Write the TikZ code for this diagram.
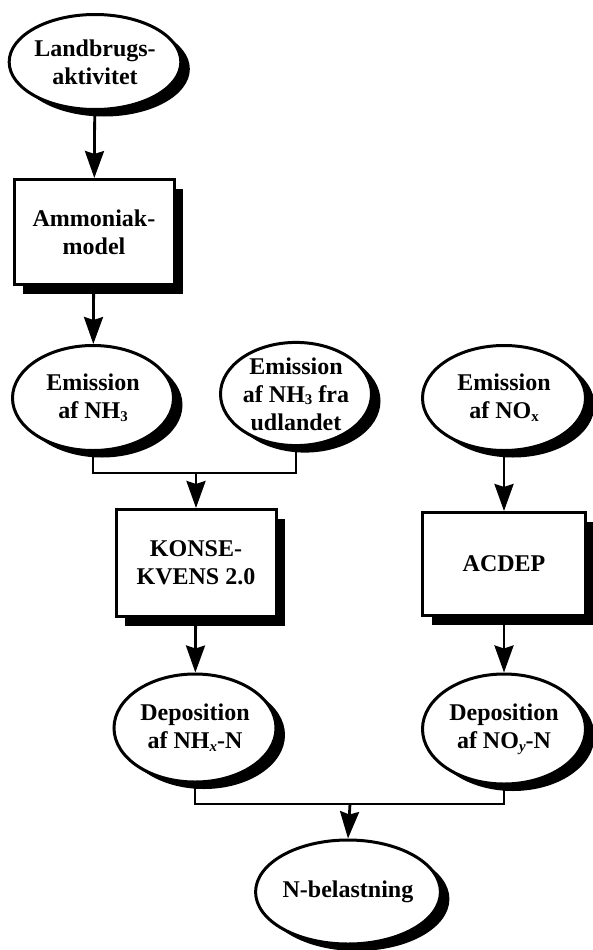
\documentclass[tikz,border=0pt]{standalone}
\usepackage{fontspec}
\setmainfont{Liberation Serif}
\usetikzlibrary{shapes.geometric,shadows,arrows.meta}
\newcommand{\sbs}[1]{\raisebox{-0.25ex}{\scalebox{0.62}{#1}}}
\tikzset{
  ell/.style={ellipse, draw, line width=3pt, fill=white, inner sep=0pt, align=center,
    font=\fontsize{24}{28}\selectfont\bfseries,
    drop shadow={shadow xshift=9pt, shadow yshift=-7pt, fill=black, opacity=1}},
  box/.style={rectangle, draw, line width=3pt, fill=white, inner sep=0pt, align=center,
    font=\fontsize{24}{28}\selectfont\bfseries,
    drop shadow={shadow xshift=9pt, shadow yshift=-9pt, fill=black, opacity=1}},
  conn/.style={line width=2.8pt},
  arr/.style={conn, -{Stealth[length=27pt,width=19pt,inset=3pt]}}
}
\begin{document}
\begin{tikzpicture}[x=1pt,y=-1pt]
\useasboundingbox[fill=white] (0,0) rectangle (593,950);
\node[ell, minimum width=158pt, minimum height=95pt] (l1) at (95,62) {Landbrugs-\\aktivitet};
\node[box, minimum width=160pt, minimum height=105pt] (b1) at (94,232) {Ammoniak-\\model};
\node[ell, minimum width=161pt, minimum height=105pt] (e1) at (93,398) {Emission\\af NH\sbs{3}};
\node[ell, minimum width=151pt, minimum height=96pt] (e2) at (296,394) {Emission\\af NH\sbs{3} fra\\udlandet};
\node[ell, minimum width=163pt, minimum height=105pt] (e3) at (504,398) {Emission\\af NO\sbs{x}};
\node[box, minimum width=160pt, minimum height=107pt] (b2) at (196,563) {KONSE-\\KVENS 2.0};
\node[box, minimum width=163pt, minimum height=103pt] (b3) at (504,564) {ACDEP};
\node[ell, minimum width=162pt, minimum height=108pt] (d1) at (195,728) {Deposition\\af NH\sbs{\textit{x}}-N};
\node[ell, minimum width=163pt, minimum height=110pt] (d2) at (504,729) {Deposition\\af NO\sbs{\textit{y}}-N};
\node[ell, minimum width=156pt, minimum height=104pt] (n1) at (348,892) {N-belastning};
\coordinate (j1) at (196,473);
\coordinate (j2) at (350,804);
\draw[arr] (l1) -- (b1);
\draw[arr] (b1) -- (e1);
\draw[conn] (e1.south) |- (j1) -| (e2.south);
\draw[arr] (j1) -- (b2.north);
\draw[arr] (e3) -- (b3);
\draw[arr] (b2) -- (d1);
\draw[arr] (b3) -- (d2);
\draw[conn] (d1.south) |- (j2) -| (d2.south);
\draw[arr] (j2) -- (n1.north);
\end{tikzpicture}
\end{document}
